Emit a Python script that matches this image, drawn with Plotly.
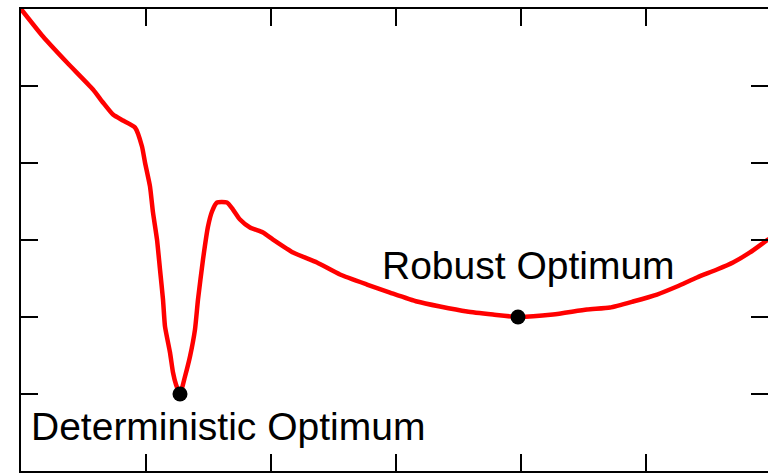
import plotly.graph_objects as go

# Curve data
curve_x = [0.0, 0.176, 0.368, 0.576, 0.656, 0.736, 0.816, 0.912, 0.968, 0.992,
           1.032, 1.056, 1.088, 1.112, 1.136, 1.152, 1.192, 1.216, 1.240, 1.272,
           1.312, 1.352, 1.392, 1.416, 1.456, 1.496, 1.528, 1.568, 1.648, 1.696,
           1.752, 1.832, 1.936, 2.016, 2.176, 2.368, 2.552, 2.768, 2.952, 3.168,
           3.352, 3.568, 3.776, 3.976, 4.256, 4.528, 4.712, 4.896, 5.088, 5.248,
           5.408, 5.568, 5.696, 5.832, 5.976, 6.0]
curve_y = [6.0, 5.643, 5.305, 4.955, 4.786, 4.630, 4.552, 4.461, 4.214, 4.006,
           3.695, 3.357, 3.006, 2.617, 2.227, 1.877, 1.539, 1.279, 1.123, 1.0,
           1.227, 1.487, 1.838, 2.227, 2.747, 3.175, 3.370, 3.487, 3.487, 3.396,
           3.266, 3.162, 3.097, 3.006, 2.838, 2.708, 2.552, 2.422, 2.318, 2.201,
           2.136, 2.071, 2.032, 2.0, 2.032, 2.097, 2.123, 2.201, 2.292, 2.396,
           2.513, 2.617, 2.708, 2.838, 3.006, 3.03]

opt_x = [1.272, 3.976]
opt_y = [1.0, 2.0]
opt_labels = ["Deterministic Optimum", "Robust Optimum"]
label_x = [1.656, 4.056]
label_y = [0.58, 2.67]

x_range = [0, 5.976]
y_range = [0, 6]

fig = go.Figure()
fig.add_trace(go.Scatter(x=curve_x, y=curve_y, mode="lines",
                         line=dict(color="#ff0000", width=4.5, shape="spline", smoothing=0.5),
                         showlegend=False, hoverinfo="skip"))
fig.add_trace(go.Scatter(x=opt_x, y=opt_y, mode="markers",
                         marker=dict(color="black", size=15), showlegend=False))
fig.add_trace(go.Scatter(x=[], y=[], xaxis="x2", yaxis="y2", showlegend=False))

for tx, ty, t in zip(label_x, label_y, opt_labels):
    fig.add_annotation(x=tx, y=ty, text=t, showarrow=False, xanchor="center",
                       yanchor="middle", font=dict(family="Liberation Sans, Arial", size=39, color="black"))

axis_common = dict(showgrid=False, zeroline=False, showticklabels=False,
                   ticks="inside", ticklen=17, tickwidth=2, tickcolor="black",
                   dtick=1, tick0=0)

fig.update_layout(
    width=768, height=474,
    margin=dict(l=21, r=0, t=9, b=3),
    paper_bgcolor="white", plot_bgcolor="white",
    xaxis=dict(range=x_range, showline=True, linewidth=2, linecolor="black", **axis_common),
    yaxis=dict(range=y_range, showline=True, linewidth=2, linecolor="black", **axis_common),
    xaxis2=dict(range=x_range, overlaying="x", side="top", showline=True, linewidth=2,
                linecolor="black", **axis_common),
    yaxis2=dict(range=y_range, overlaying="y", side="right", showline=False, **axis_common),
)

fig.write_html("out.html", config={"displayModeBar": False},
               post_script="document.body.style.margin='0';document.body.style.overflow='hidden';")
